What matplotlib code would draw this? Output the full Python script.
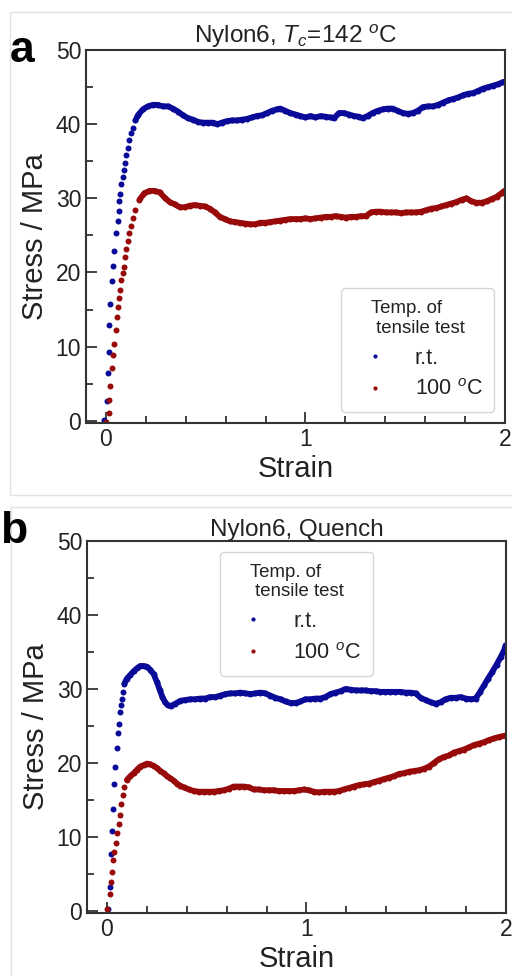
import numpy as np
import matplotlib.pyplot as plt
from matplotlib.ticker import MultipleLocator
from matplotlib.patches import Rectangle

plt.rcParams['font.family'] = ['Liberation Sans', 'DejaVu Sans']
plt.rcParams['mathtext.fontset'] = 'custom'
plt.rcParams['mathtext.rm'] = 'Liberation Sans'
plt.rcParams['mathtext.it'] = 'Liberation Sans:italic'

# ---- data: (a) Tc=142 oC, (b) quenched ----
a_rt_strain = [-0.008, 0.003, 0.012, 0.013, 0.017, 0.022, 0.028, 0.033, 0.042, 0.050,
               0.059, 0.064, 0.067, 0.070, 0.076, 0.084, 0.089, 0.094, 0.100, 0.109,
               0.117, 0.126, 0.134, 0.148, 0.160, 0.185, 0.210, 0.235, 0.260, 0.286,
               0.311, 0.336, 0.361, 0.386, 0.412, 0.437, 0.462, 0.487, 0.512, 0.538,
               0.558, 0.580, 0.605, 0.630, 0.656, 0.681, 0.706, 0.731, 0.756, 0.782,
               0.807, 0.832, 0.857, 0.874, 0.899, 0.924, 0.950, 0.975, 1.000, 1.025,
               1.050, 1.076, 1.101, 1.126, 1.143, 1.168, 1.193, 1.218, 1.244, 1.269,
               1.286, 1.311, 1.336, 1.362, 1.387, 1.412, 1.437, 1.462, 1.488, 1.513,
               1.538, 1.563, 1.588, 1.614, 1.639, 1.664, 1.689, 1.715, 1.740, 1.765,
               1.790, 1.815, 1.841, 1.866, 1.891, 1.916, 1.942, 1.967, 1.992]
a_rt_stress = [0.1, 2.6, 6.4, 9.3, 12.9, 15.8, 18.8, 20.9, 22.9, 25.3,
               27.0, 28.3, 29.7, 30.6, 31.9, 32.9, 33.8, 34.7, 35.9, 36.8,
               37.9, 38.8, 39.5, 40.5, 41.2, 42.0, 42.4, 42.6, 42.6, 42.4,
               42.4, 42.1, 41.7, 41.2, 40.8, 40.6, 40.3, 40.2, 40.2, 40.2,
               40.0, 40.2, 40.4, 40.5, 40.5, 40.6, 40.7, 40.9, 41.1, 41.2,
               41.5, 41.8, 42.0, 42.1, 41.8, 41.5, 41.3, 41.1, 40.9, 41.1,
               40.9, 41.1, 41.0, 40.9, 40.8, 41.5, 41.5, 41.3, 41.1, 41.0,
               40.8, 41.1, 41.5, 41.8, 42.0, 42.1, 42.1, 41.8, 41.5, 41.4,
               41.5, 41.8, 42.3, 42.4, 42.4, 42.6, 42.9, 43.2, 43.4, 43.6,
               43.9, 44.1, 44.2, 44.5, 44.8, 45.0, 45.2, 45.4, 45.7]

a_hot_strain = [0.000, 0.013, 0.017, 0.022, 0.028, 0.037, 0.042, 0.050, 0.055, 0.062,
                0.067, 0.070, 0.076, 0.084, 0.089, 0.096, 0.100, 0.109, 0.117, 0.126,
                0.134, 0.148, 0.168, 0.193, 0.218, 0.244, 0.269, 0.294, 0.319, 0.344,
                0.370, 0.395, 0.420, 0.445, 0.470, 0.496, 0.521, 0.546, 0.571, 0.597,
                0.622, 0.647, 0.672, 0.697, 0.723, 0.748, 0.773, 0.798, 0.823, 0.849,
                0.874, 0.899, 0.924, 0.950, 0.975, 1.000, 1.025, 1.050, 1.076, 1.101,
                1.126, 1.151, 1.177, 1.202, 1.227, 1.252, 1.277, 1.303, 1.328, 1.353,
                1.378, 1.403, 1.429, 1.454, 1.479, 1.504, 1.529, 1.555, 1.580, 1.605,
                1.630, 1.656, 1.681, 1.706, 1.731, 1.756, 1.782, 1.807, 1.832, 1.857,
                1.883, 1.908, 1.933, 1.958, 1.983, 1.997]
a_hot_stress = [-0.1, 1.0, 2.8, 4.7, 7.1, 8.9, 10.4, 12.3, 14.0, 15.4,
                16.5, 17.6, 19.0, 19.9, 20.8, 22.1, 23.1, 24.2, 25.3, 26.3,
                27.3, 28.4, 29.8, 30.7, 31.0, 31.0, 30.8, 30.1, 29.5, 29.2,
                28.8, 28.8, 29.0, 29.1, 29.0, 28.9, 28.6, 28.1, 27.5, 27.2,
                26.9, 26.8, 26.7, 26.6, 26.5, 26.5, 26.7, 26.7, 26.8, 26.9,
                27.0, 27.1, 27.2, 27.2, 27.2, 27.3, 27.2, 27.3, 27.4, 27.5,
                27.5, 27.6, 27.5, 27.4, 27.5, 27.5, 27.6, 27.6, 28.1, 28.2,
                28.2, 28.1, 28.1, 28.1, 28.0, 28.1, 28.1, 28.1, 28.2, 28.4,
                28.6, 28.7, 28.9, 29.1, 29.3, 29.5, 29.8, 30.0, 29.6, 29.4,
                29.4, 29.6, 29.9, 30.2, 30.7, 31.0]

b_rt_strain = [0.003, 0.013, 0.022, 0.025, 0.030, 0.037, 0.042, 0.048, 0.054, 0.060,
               0.064, 0.070, 0.075, 0.080, 0.087, 0.100, 0.117, 0.134, 0.151, 0.167,
               0.184, 0.201, 0.217, 0.234, 0.251, 0.264, 0.278, 0.291, 0.304, 0.321,
               0.343, 0.368, 0.393, 0.418, 0.443, 0.468, 0.493, 0.518, 0.543, 0.569,
               0.594, 0.619, 0.644, 0.669, 0.694, 0.719, 0.744, 0.769, 0.794, 0.819,
               0.844, 0.870, 0.895, 0.920, 0.945, 0.970, 0.995, 1.020, 1.045, 1.070,
               1.095, 1.120, 1.145, 1.171, 1.196, 1.221, 1.246, 1.271, 1.296, 1.321,
               1.346, 1.371, 1.396, 1.421, 1.446, 1.472, 1.497, 1.522, 1.547, 1.572,
               1.597, 1.622, 1.647, 1.672, 1.697, 1.722, 1.747, 1.773, 1.798, 1.823,
               1.848, 1.870, 1.890, 1.910, 1.931, 1.953, 1.973, 1.990, 1.998]
b_rt_stress = [0.3, 3.2, 7.7, 10.8, 13.7, 17.1, 19.5, 22.0, 24.0, 25.3,
               26.9, 27.8, 28.7, 29.6, 30.7, 31.4, 31.9, 32.4, 32.8, 33.1,
               33.1, 33.0, 32.6, 32.0, 30.9, 29.9, 28.9, 28.2, 27.8, 27.7,
               28.0, 28.4, 28.5, 28.6, 28.6, 28.7, 28.7, 28.9, 28.9, 29.1,
               29.3, 29.4, 29.4, 29.5, 29.4, 29.3, 29.4, 29.5, 29.4, 29.1,
               28.8, 28.6, 28.3, 28.1, 28.1, 28.3, 28.6, 28.6, 28.7, 28.7,
               28.9, 29.3, 29.5, 29.7, 30.0, 29.9, 29.8, 29.8, 29.8, 29.7,
               29.7, 29.6, 29.6, 29.6, 29.6, 29.6, 29.5, 29.5, 29.4, 28.8,
               28.5, 28.2, 28.0, 28.2, 28.6, 28.8, 28.8, 28.9, 28.7, 28.6,
               28.7, 29.6, 30.5, 31.4, 32.3, 33.3, 34.3, 35.2, 35.9]

b_hot_strain = [0.000, 0.013, 0.020, 0.025, 0.030, 0.037, 0.043, 0.050, 0.059, 0.064,
                0.070, 0.079, 0.087, 0.100, 0.117, 0.134, 0.151, 0.167, 0.184, 0.201,
                0.217, 0.234, 0.251, 0.268, 0.284, 0.301, 0.318, 0.334, 0.351, 0.368,
                0.385, 0.410, 0.435, 0.460, 0.485, 0.510, 0.535, 0.560, 0.585, 0.610,
                0.635, 0.661, 0.686, 0.711, 0.736, 0.761, 0.786, 0.811, 0.836, 0.861,
                0.886, 0.911, 0.936, 0.962, 0.987, 1.012, 1.037, 1.062, 1.087, 1.112,
                1.137, 1.162, 1.187, 1.212, 1.237, 1.263, 1.288, 1.313, 1.338, 1.363,
                1.388, 1.413, 1.438, 1.463, 1.488, 1.513, 1.538, 1.564, 1.589, 1.614,
                1.639, 1.664, 1.689, 1.714, 1.739, 1.764, 1.789, 1.814, 1.839, 1.865,
                1.890, 1.915, 1.940, 1.965, 1.998]
b_hot_stress = [0.3, 2.3, 3.9, 5.3, 6.8, 8.0, 9.2, 10.5, 11.8, 12.9,
                14.5, 15.6, 16.8, 17.7, 18.2, 18.6, 19.1, 19.5, 19.7, 19.9,
                19.8, 19.6, 19.3, 18.9, 18.6, 18.2, 17.9, 17.6, 17.2, 16.9,
                16.7, 16.4, 16.2, 16.1, 16.1, 16.1, 16.1, 16.2, 16.3, 16.5,
                16.8, 16.8, 16.8, 16.7, 16.4, 16.4, 16.3, 16.3, 16.3, 16.2,
                16.2, 16.2, 16.2, 16.3, 16.4, 16.3, 16.1, 16.0, 16.1, 16.1,
                16.1, 16.2, 16.4, 16.6, 16.8, 17.0, 17.1, 17.2, 17.4, 17.6,
                17.8, 18.0, 18.2, 18.5, 18.6, 18.8, 18.9, 19.0, 19.2, 19.5,
                20.0, 20.5, 20.8, 21.0, 21.4, 21.6, 21.8, 22.1, 22.4, 22.6,
                22.8, 23.1, 23.3, 23.5, 23.7]

labels = ['r.t.', '100 $^o$C']
titles = ['Nylon6, $T_c$=142 $^o$C', 'Nylon6, Quench']
panel_letters = ['a', 'b']

blue = '#0a0a98'
red = '#980a0a'
dark = '#333333'
txt = '#222222'

fig = plt.figure(figsize=(5.12, 9.76), dpi=100)

# light grey frames around each panel
fig.add_artist(Rectangle((10 / 512, 1 - 495 / 976), 510 / 512, 483 / 976,
                         transform=fig.transFigure, fill=False, ec='#e2e2e2', lw=1))
fig.add_artist(Rectangle((11 / 512, -0.01), 510 / 512, 1 - 507 / 976 + 0.01,
                         transform=fig.transFigure, fill=False, ec='#e2e2e2', lw=1))

ax_a = fig.add_axes([86 / 512, 1 - 423 / 976, 419 / 512, 373 / 976])
ax_b = fig.add_axes([87 / 512, 1 - 913 / 976, 419 / 512, 372 / 976])

panels = [
    (ax_a, a_rt_strain, a_rt_stress, a_hot_strain, a_hot_stress, 0.14, 0.16, 'lower right'),
    (ax_b, b_rt_strain, b_rt_stress, b_hot_strain, b_hot_stress, 0.085, 0.095, 'upper center'),
]

for i, (ax, xs1, ys1, xs2, ys2, cut1, cut2, loc) in enumerate(panels):
    for xs, ys, c, cut, lab in [(xs1, ys1, blue, cut1, labels[0]),
                                (xs2, ys2, red, cut2, labels[1])]:
        xs = np.array(xs)
        ys = np.array(ys)
        ax.plot(xs, ys, 'o', ms=4.3, mew=0, color=c, label=lab)
        # dense part of the record: the points merge into a band
        m = xs >= cut
        ax.plot(xs[m], ys[m], '-', lw=4.2, color=c, solid_capstyle='round',
                solid_joinstyle='round')

    ax.set_xlim(-0.1, 2.0)
    ax.set_ylim(-0.3, 50)
    ax.xaxis.set_major_locator(MultipleLocator(1))
    ax.xaxis.set_minor_locator(MultipleLocator(0.2))
    ax.yaxis.set_major_locator(MultipleLocator(10))
    ax.yaxis.set_minor_locator(MultipleLocator(5))
    ax.tick_params(which='both', direction='in', top=False, right=False,
                   color=dark, width=1.3, labelsize=16.5, labelcolor=txt, pad=3.5)
    ax.tick_params(which='major', length=8)
    ax.tick_params(which='minor', length=5)
    for sp in ax.spines.values():
        sp.set_color(dark)
        sp.set_linewidth(1.5)

    ax.set_xlabel('Strain', fontsize=21, color=txt, labelpad=3)
    ax.set_ylabel('Stress / MPa', fontsize=21, color=txt, labelpad=5)
    ax.set_title(titles[i], fontsize=17.5, color=txt, pad=3)

    leg = ax.legend(loc=loc, title='Temp. of\n tensile test', fontsize=15.5,
                    title_fontsize=13.4, markerscale=0.7, handlelength=2.0,
                    handletextpad=0.85, borderpad=0.55, labelspacing=0.5,
                    borderaxespad=0.5)
    leg.get_title().set_color(txt)
    for t in leg.get_texts():
        t.set_color(txt)

fig.text(10 / 512, 1 - 62 / 976, panel_letters[0], fontsize=32, fontweight='bold', va='baseline')
fig.text(0.0, 1 - 543 / 976, panel_letters[1], fontsize=32, fontweight='bold', va='baseline')

fig.savefig('out.png', dpi=100)
